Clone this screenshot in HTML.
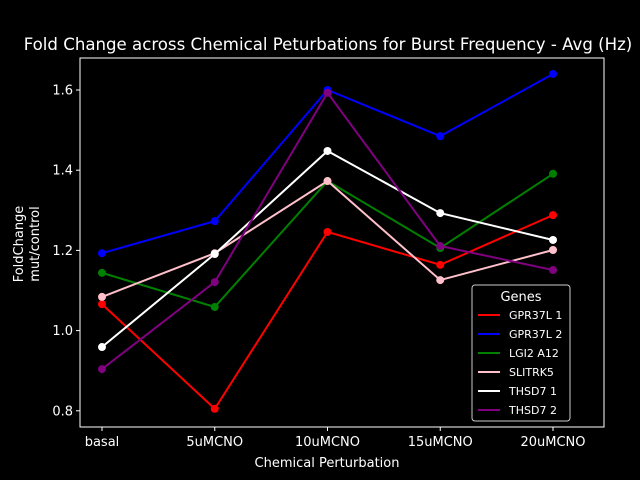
<!DOCTYPE html>
<html><head><meta charset="utf-8"><style>
body{margin:0;background:#000;}
svg{display:block;font-family:"DejaVu Sans","Liberation Sans",sans-serif;}
</style></head><body>
<svg id="chart" width="640" height="480">
<rect width="640" height="480" fill="#000"/>
<text x="328" y="50" fill="#fff" font-size="16.6" text-anchor="middle">Fold Change across Chemical Peturbations for Burst Frequency - Avg (Hz)</text>
<g id="axes"></g>
<g id="series"></g>
<rect x="80" y="58" width="524" height="369" fill="none" stroke="#fff" stroke-width="1"/>
<text x="327" y="467" fill="#fff" font-size="13" text-anchor="middle">Chemical Perturbation</text>
<text transform="translate(23,244) rotate(-90)" fill="#fff" font-size="13" text-anchor="middle"><tspan x="0" dy="0">FoldChange</tspan><tspan x="0" dy="16">mut/control</tspan></text>
<g id="legend"></g>
</svg>
<script>
const categories=["basal","5uMCNO","10uMCNO","15uMCNO","20uMCNO"];
const seriesNames=["GPR37L 1","GPR37L 2","LGI2 A12","SLITRK5","THSD7 1","THSD7 2"];
const seriesColors=["#ff0000","#0000ff","#008000","#ffc0cb","#ffffff","#800080"];
const gpr37l1=[1.066,0.805,1.246,1.164,1.288];
const gpr37l2=[1.193,1.273,1.6,1.485,1.64];
const lgi2a12=[1.144,1.059,1.373,1.206,1.391];
const slitrk5=[1.084,1.193,1.373,1.126,1.201];
const thsd71=[0.959,1.191,1.448,1.293,1.226];
const thsd72=[0.904,1.121,1.593,1.211,1.151];
const yTicks=[0.8,1.0,1.2,1.4,1.6];
const allSeries=[gpr37l1,gpr37l2,lgi2a12,slitrk5,thsd71,thsd72];
const NS="http://www.w3.org/2000/svg";
function xScale(i){return 102+i*(553-102)/(categories.length-1);}
function yScale(v){return 90+(1.6-v)*401;}
function mk(tag,attrs,parent){const e=document.createElementNS(NS,tag);for(const k in attrs)e.setAttribute(k,attrs[k]);parent.appendChild(e);return e;}
const axes=document.getElementById('axes');
categories.forEach((c,i)=>{
 const x=xScale(i);
 const t=mk('line',{x1:x,x2:x,y1:427,y2:431,stroke:'#fff'},axes);
 
 
 const l=mk('text',{x:x,y:446,fill:'#fff','font-size':13,'text-anchor':'middle'},axes);
 l.textContent=c;
 
 
});
yTicks.forEach(v=>{
 const y=yScale(v);
 const t=mk('line',{x1:76,x2:80,y1:y,y2:y,stroke:'#fff'},axes);
 
 
 const l=mk('text',{x:73,y:y+4.5,fill:'#fff','font-size':13,'text-anchor':'end'},axes);
 l.textContent=v.toFixed(1);
 
 
});
const sg=document.getElementById('series');
allSeries.forEach((vals,s)=>{
 const g=mk('g',{},sg);
 
 
 const pts=vals.map((v,i)=>xScale(i)+','+yScale(v)).join(' ');
 const pl=mk('polyline',{points:pts,fill:'none',stroke:seriesColors[s],'stroke-width':2},g);
 
 
 vals.forEach((v,i)=>{
  const c=mk('circle',{cx:xScale(i),cy:yScale(v),r:4,fill:seriesColors[s]},g);
  
  
 });
});
const lg=document.getElementById('legend');


mk('rect',{x:472,y:285,width:98,height:136,rx:3,fill:'#000',stroke:'#ccc','stroke-width':1},lg);
const lt=mk('text',{x:521,y:301,fill:'#fff','font-size':13,'text-anchor':'middle'},lg);
lt.textContent='Genes';


seriesNames.forEach((n,s)=>{
 const y=315+s*19;
 const e=mk('g',{},lg);
 
 
 mk('line',{x1:478,x2:500,y1:y,y2:y,stroke:seriesColors[s],'stroke-width':2},e);
 const t=mk('text',{x:509,y:y+4,fill:'#fff','font-size':11},e);
 t.textContent=n;
});
</script>
</body></html>
